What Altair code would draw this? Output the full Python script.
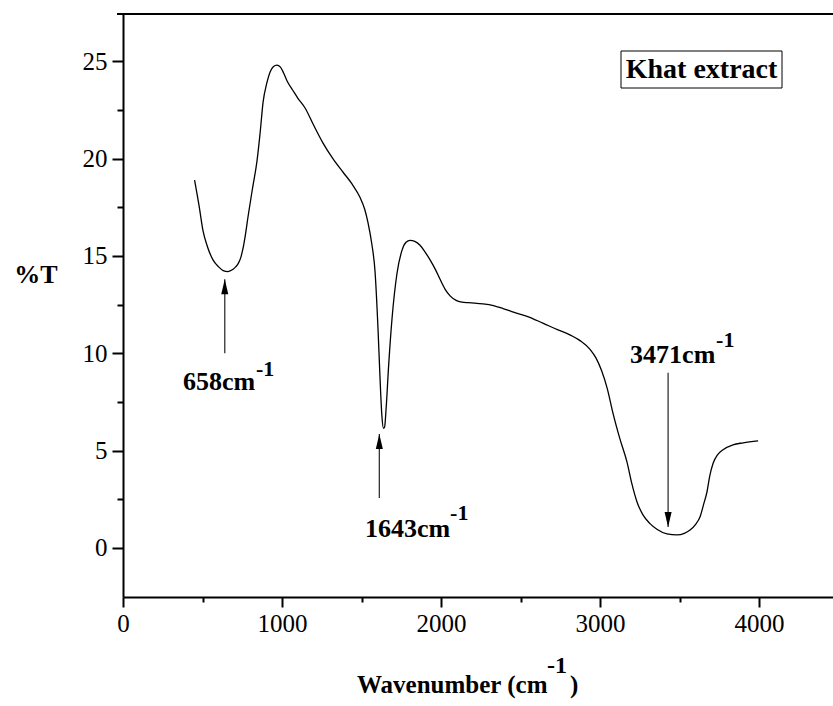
import altair as alt
import pandas as pd

# ---- spectrum ----
wavenumber = [450, 480, 503, 530, 566, 600, 630, 660, 690, 710, 725, 740, 755, 770, 786, 815, 843,
              862, 881, 905, 925, 945, 968, 990, 1010, 1031, 1069, 1100, 1145, 1200, 1258, 1320,
              1384, 1440, 1491, 1520, 1541, 1565, 1585, 1604, 1616, 1628, 1638, 1645, 1655, 1670,
              1692, 1723, 1755, 1780, 1805, 1835, 1868, 1900, 1931, 1965, 1994, 2025, 2057, 2095,
              2132, 2170, 2210, 2264, 2330, 2390, 2460, 2541, 2640, 2736, 2810, 2874, 2937, 2975,
              3010, 3045, 3082, 3125, 3170, 3200, 3233, 3270, 3314, 3360, 3421, 3484, 3530, 3566,
              3600, 3629, 3650, 3673, 3690, 3711, 3740, 3774, 3836, 3900, 3994]
transmittance = [18.9, 17.5, 16.3, 15.5, 14.8, 14.45, 14.25, 14.2, 14.3, 14.45, 14.62, 14.9, 15.4,
                 16.1, 17.0, 18.5, 19.9, 21.3, 22.9, 23.9, 24.45, 24.72, 24.8, 24.7, 24.4, 24.0,
                 23.5, 23.1, 22.6, 21.7, 20.8, 20.0, 19.3, 18.7, 18.0, 17.4, 16.7, 15.6, 14.2,
                 11.2, 8.8, 6.8, 6.15, 6.2, 7.2, 9.3, 11.8, 14.1, 15.3, 15.7, 15.8, 15.75, 15.55,
                 15.2, 14.8, 14.3, 13.8, 13.3, 12.95, 12.72, 12.63, 12.6, 12.58, 12.54, 12.45,
                 12.3, 12.1, 11.9, 11.55, 11.2, 10.95, 10.65, 10.2, 9.75, 9.1, 8.2, 6.9, 5.6, 4.4,
                 3.3, 2.35, 1.7, 1.25, 0.95, 0.72, 0.67, 0.75, 0.92, 1.2, 1.6, 2.2, 2.9, 3.7,
                 4.35, 4.8, 5.05, 5.3, 5.4, 5.5]

x_tick_values = [0, 500, 1000, 1500, 2000, 2500, 3000, 3500, 4000]
y_tick_values = [0, 2.5, 5, 7.5, 10, 12.5, 15, 17.5, 20, 22.5, 25]

# ---- peak annotations ----
peak_text = ["658cm", "1643cm", "3471cm"]
sup_text = ["-1", "-1", "-1"]
arrow_x = [640, 1612, 3428]
arrow_start = [10.0, 2.57, 9.0]
arrow_tip = [13.8, 5.85, 1.08]
arrow_dir = ["up", "up", "down"]
label_x = [377, 1522, 3189]
label_y = [8.11, 0.56, 9.5]
sup_x = [836, 2057, 3730]
sup_y = [8.83, 1.44, 10.32]

FONT = "Liberation Serif"

spec = pd.DataFrame({"wn": wavenumber, "T": transmittance})
arrows = pd.DataFrame({"x": arrow_x, "y0": arrow_start, "y1": arrow_tip, "dir": arrow_dir})
labels = pd.DataFrame({"x": label_x, "y": label_y, "t": peak_text})
sups = pd.DataFrame({"x": sup_x, "y": sup_y, "t": sup_text})

xs = alt.Scale(domain=[0, 4465], nice=False, zero=False)
ys = alt.Scale(domain=[-2.52, 27.43], nice=False, zero=False)

x_axis = alt.Axis(values=x_tick_values, labelExpr="datum.value % 1000 === 0 ? datum.label : ''",
                  format="d", title=None, grid=False, domainColor="black", domainWidth=2,
                  tickColor="black", tickWidth=2,
                  tickSize={"condition": {"test": "datum.value % 1000 === 0", "value": 10}, "value": 5},
                  labelFont=FONT, labelFontSize=25, labelColor="black", labelPadding=4,
                  labelFlush=False, labelOverlap=False)
y_axis = alt.Axis(values=y_tick_values, labelExpr="datum.value % 5 === 0 ? datum.label : ''",
                  title=None, grid=False, domainColor="black", domainWidth=2,
                  tickColor="black", tickWidth=2,
                  tickSize={"condition": {"test": "datum.value % 5 === 0", "value": 11}, "value": 6},
                  labelFont=FONT, labelFontSize=25, labelColor="black", labelPadding=5,
                  labelFlush=False, labelOverlap=False)

line = alt.Chart(spec).mark_line(color="black", strokeWidth=1.3, interpolate="monotone").encode(
    x=alt.X("wn:Q", scale=xs, axis=x_axis),
    y=alt.Y("T:Q", scale=ys, axis=y_axis),
)

top_line = alt.Chart(pd.DataFrame({"k": [0]})).mark_rule(color="black", strokeWidth=2).encode(
    x=alt.value(-6), x2=alt.value(710), y=alt.value(0))

arrow_lines = alt.Chart(arrows).mark_rule(color="#333333", strokeWidth=1.3).encode(
    x=alt.X("x:Q", scale=xs), y=alt.Y("y0:Q", scale=ys), y2="y1:Q")

up_path = "M0,0L0.47,2L-0.47,2Z"
down_path = "M0,0L0.47,-2L-0.47,-2Z"
heads = alt.Chart(arrows).mark_point(filled=True, color="black", opacity=1, size=225, strokeWidth=0).encode(
    x=alt.X("x:Q", scale=xs), y=alt.Y("y1:Q", scale=ys),
    shape=alt.Shape("dir:N", scale=alt.Scale(domain=["up", "down"], range=[up_path, down_path]), legend=None))

peak_labels = alt.Chart(labels).mark_text(align="left", baseline="alphabetic", font=FONT, fontSize=26,
                                          fontWeight="bold", color="black").encode(
    x=alt.X("x:Q", scale=xs), y=alt.Y("y:Q", scale=ys), text="t:N")
peak_sups = alt.Chart(sups).mark_text(align="left", baseline="alphabetic", font=FONT, fontSize=22,
                                      fontWeight="bold", color="black").encode(
    x=alt.X("x:Q", scale=xs), y=alt.Y("y:Q", scale=ys), text="t:N")

one = pd.DataFrame({"k": [0]})
box = alt.Chart(one).mark_rect(fill="white", stroke="black", strokeWidth=1).encode(
    x=alt.value(498), x2=alt.value(659), y=alt.value(37), y2=alt.value(74))
box_text = alt.Chart(pd.DataFrame({"t": ["Khat extract"]})).mark_text(
    align="center", baseline="middle", font=FONT, fontSize=28, fontWeight="bold", color="black").encode(
    x=alt.value(578.5), y=alt.value(56), text="t:N")

y_title = alt.Chart(pd.DataFrame({"t": ["%T"]})).mark_text(
    align="center", baseline="middle", font=FONT, fontSize=26, fontWeight="bold", color="black").encode(
    x=alt.value(-87), y=alt.value(261), text="t:N")
x_title_main = alt.Chart(pd.DataFrame({"t": ["Wavenumber (cm"]})).mark_text(
    align="left", baseline="alphabetic", font=FONT, fontSize=25, fontWeight="bold", color="black").encode(
    x=alt.value(234), y=alt.value(679), text="t:N")
x_title_sup = alt.Chart(pd.DataFrame({"t": ["-1"]})).mark_text(
    align="left", baseline="alphabetic", font=FONT, fontSize=24, fontWeight="bold", color="black").encode(
    x=alt.value(424), y=alt.value(659), text="t:N")
x_title_end = alt.Chart(pd.DataFrame({"t": [")"]})).mark_text(
    align="left", baseline="alphabetic", font=FONT, fontSize=25, fontWeight="bold", color="black").encode(
    x=alt.value(447), y=alt.value(679), text="t:N")

chart = alt.layer(line, top_line, arrow_lines, heads, peak_labels, peak_sups, box, box_text,
                  y_title, x_title_main, x_title_sup, x_title_end).properties(
    width=710, height=583,
    padding={"left": 123, "top": 14, "right": 0, "bottom": 109},
    autosize=alt.AutoSizeParams(type="none"),
    background="white",
).configure_view(stroke=None)

chart.save("out.html", embed_options={"renderer": "svg", "actions": False})
